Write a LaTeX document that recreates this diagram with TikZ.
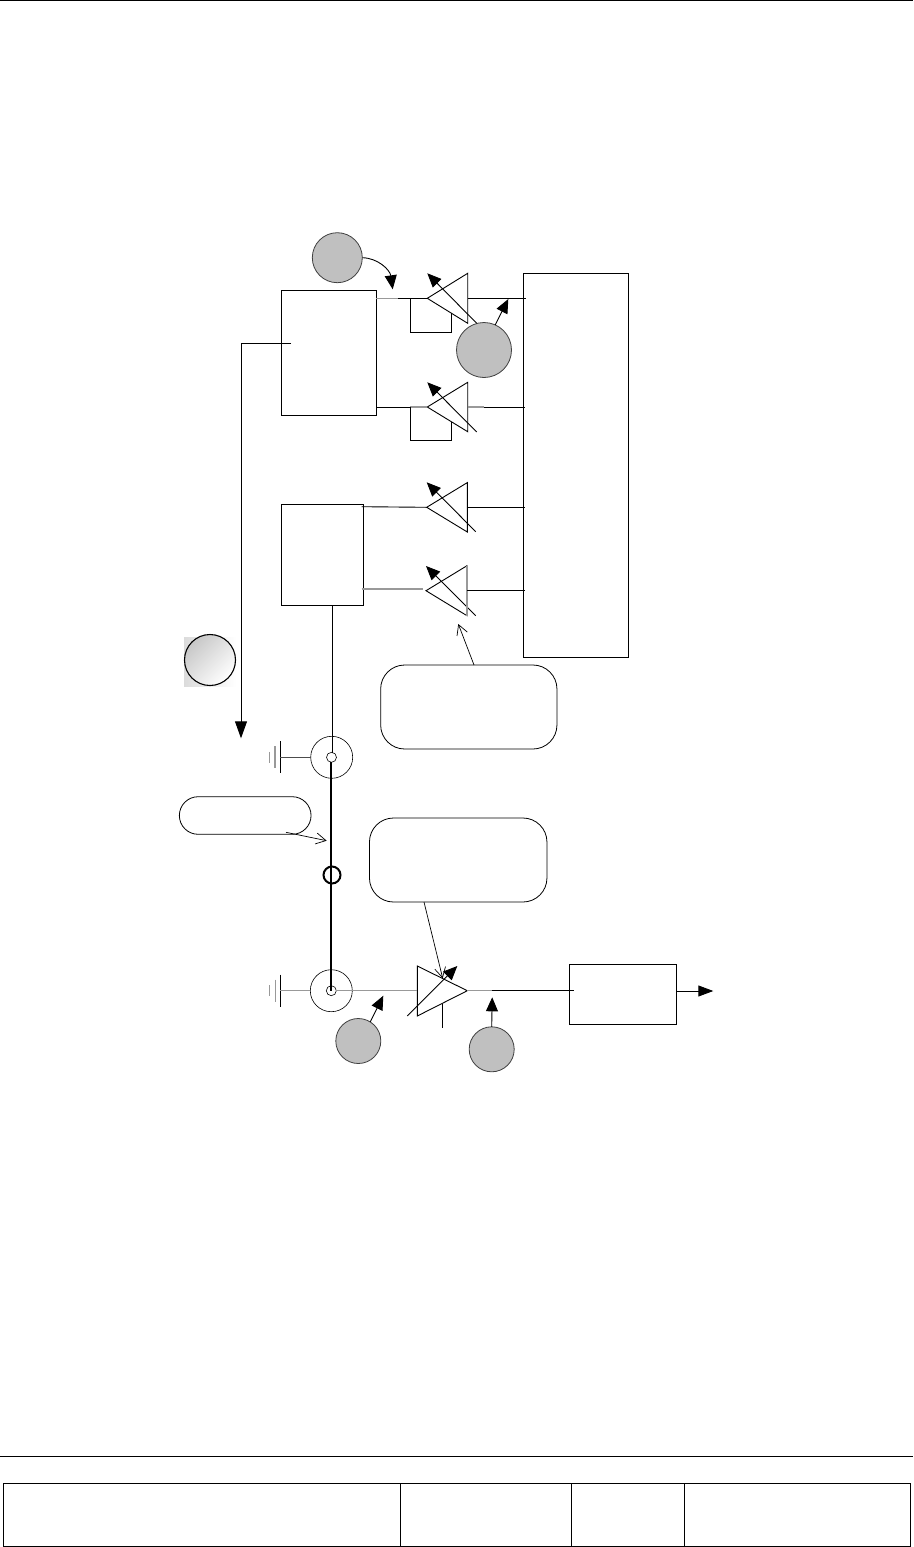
\documentclass[tikz,border=0pt]{standalone}
\usetikzlibrary{arrows.meta,calc}
\definecolor{bub}{HTML}{C0C0C0}
\definecolor{wgrey}{HTML}{999999}
\tikzset{
  wire/.style={draw=black,line width=0.9pt},
  gwire/.style={draw=wgrey,line width=1.1pt},
  blockbox/.style={draw=black,line width=1pt,inner sep=0pt,outer sep=0pt,fill=none},
  roundbox/.style={draw=black,line width=0.8pt,inner sep=0pt,outer sep=0pt,rounded corners=24pt},
  bubble/.style={circle,draw=black!75,line width=0.8pt,fill=bub,inner sep=0pt,outer sep=0pt},
  ring/.style={circle,draw=black,line width=0.6pt,inner sep=0pt,outer sep=0pt},
  solidarrow/.style={wire,-{Triangle[length=14pt,width=12pt]}},
  openarrow/.style={draw=black,line width=0.7pt,-{Straight Barb[length=10pt,width=11pt,line width=0.7pt]}},
  ampedge/.style={draw=black,line width=0.9pt,line join=miter},
  thick wire/.style={draw=black,line width=2.4pt},
  groundbar/.style={draw=wgrey,line width=1.1pt}
}
% name, apex x, y, base x, half height
\newcommand{\ampl}[5]{%
  \coordinate (#1-a) at (#2,#3);
  \coordinate (#1-m) at (#4,#3);
  \coordinate (#1-t) at (#4,#3-#5);
  \coordinate (#1-b) at (#4,#3+#5);
  \draw[ampedge] (#1-a) -- (#1-t) -- (#1-b) -- cycle;
}
% name, centre x, y : ground symbol attached to x position
\newcommand{\grnd}[3]{%
  \coordinate (#1) at (#2,#3);
  \draw[wire] (#2,#3-16) -- (#2,#3+16);
  \draw[groundbar] (#2-5,#3-11) -- (#2-5,#3+11);
  \draw[groundbar] (#2-10.5,#3-5.5) -- (#2-10.5,#3+5.5);
}
\begin{document}
\begin{tikzpicture}[x=1pt,y=-1pt]
\useasboundingbox (0,0) rectangle (913,1547);
\fill[white] (0,0) rectangle (913,1547);

% page furniture
\coordinate (tl) at (0,0.6); \coordinate (tr) at (913,0.6);
\draw[wire,line width=1pt] (tl) -- (tr);
\coordinate (fl) at (0,1456); \coordinate (fr) at (913,1456);
\draw[wire,line width=1pt] (fl) -- (fr);
\draw[wire,line width=0.9pt] (3,1483.5) rectangle (910.5,1546.5);
\draw[wire,line width=0.9pt] (400.7,1483.5) -- (400.7,1546.5);
\draw[wire,line width=0.9pt] (571,1483.5) -- (571,1546.5);
\draw[wire,line width=0.9pt] (684,1483.5) -- (684,1546.5);

% blocks
\node[blockbox,minimum width=95pt,minimum height=125pt] (mixa) at (328.8,352.8) {};
\node[blockbox,minimum width=105pt,minimum height=384pt] (dac) at (575.8,465.2) {};
\node[blockbox,minimum width=82pt,minimum height=101pt] (mixb) at (322.3,554.8) {};
\node[blockbox,minimum width=107.4pt,minimum height=60pt] (out) at (623,994.3) {};
\node[roundbox,minimum width=176.3pt,minimum height=84pt] (noteA) at (468.8,707) {};
\node[roundbox,rounded corners=18.8pt,minimum width=131.7pt,minimum height=37.6pt] (noteB) at (245.2,815.5) {};
\node[roundbox,minimum width=177.5pt,minimum height=84pt] (noteC) at (458.2,860) {};

% bubbles
\node[bubble,minimum size=50pt] (ba) at (337.3,257.7) {};
\node[bubble,minimum size=55pt] (bb) at (484,350) {};
\node[bubble,minimum size=45pt] (bc) at (358.3,1041) {};
\node[bubble,minimum size=45pt] (bd) at (491.7,1049.3) {};
\shade[left color=black!14,right color=white] (184,637) rectangle (236,686);
\node[circle,draw=black,line width=1.1pt,minimum size=51pt,inner sep=0pt,outer sep=0pt,left color=black!22,right color=white,shading angle=45] (be) at (210,660) {};

% amplifiers
\ampl{t1}{427.3}{298.3}{467.7}{25}
\ampl{t2}{427.3}{407}{467.7}{24.7}
\ampl{t3}{426.7}{507.3}{467.3}{24.7}
\ampl{t4}{426}{590.7}{467}{25}
\coordinate (t5-t) at (417.3,966);
\coordinate (t5-b) at (417.3,1016);
\coordinate (t5-m) at (417.3,990.7);
\coordinate (t5-a) at (467.3,990.7);
\draw[ampedge] (t5-a) -- (t5-t) -- (t5-b) -- cycle;

% variable-gain arrows through amplifiers
\coordinate (v1s) at (476.7,323.3); \coordinate (v1e) at (427.3,273.3);
\coordinate (v2s) at (476.7,432);   \coordinate (v2e) at (427.3,382.3);
\coordinate (v3s) at (475.7,531.7); \coordinate (v3e) at (426.7,482.3);
\coordinate (v4s) at (475.7,615.7); \coordinate (v4e) at (426,566);
\coordinate (v5s) at (407.3,1016);  \coordinate (v5e) at (457.3,966);
\foreach \k in {1,...,5}{\draw[solidarrow] (v\k s) -- (v\k e);}

% wires amplifier row 1
\coordinate (w1) at (398,298.3);
\draw[gwire] (mixa.east |- t1-a) -- (w1);
\draw[wire] (w1) -- (t1-a);
\draw[wire] (t1-m) -- ([xshift=3pt]dac.west |- t1-m);
\coordinate (f1a) at (410.3,298.3); \coordinate (f1b) at (451.7,313.3);
\draw[wire] (f1a) -- (410.3,332.3) -- (451.7,332.3) -- (f1b);
% row 2
\coordinate (w2) at (410.3,407);
\draw[wire] (mixa.east |- t2-a) -- (w2);
\draw[gwire] (w2) -- (t2-a);
\coordinate (w2b) at (484,407);
\draw[gwire] (t2-m) -- (w2b);
\draw[wire] (w2b) -- ([xshift=2pt]dac.west |- t2-m);
\coordinate (f2b) at (451.7,421.7);
\draw[wire] (w2) -- (410.3,440) -- (451.7,440) -- (f2b);
% row 3
\coordinate (m3) at (361.7,506.7);
\draw[wire] (m3) -- (t3-a);
\draw[wire] (t3-m) -- ([xshift=2pt]dac.west |- t3-m);
% row 4
\coordinate (m4) at (361.7,589); \coordinate (m4e) at (423,589);
\draw[gwire] (m4) -- (m4e);
\draw[gwire] (t4-t) -- (t4-b);
\draw[wire] (t4-m) -- ([xshift=2pt]dac.west |- t4-m);

% bubble pointers
\coordinate (pa) at (392.7,289.3);
\draw[solidarrow] (ba.east) .. controls (378,258) and (390,270) .. (pa);
\coordinate (pb) at (508.3,299);
\draw[solidarrow] (bb.66) -- (pb);
\coordinate (pc) at (383.3,995.7);
\draw[solidarrow] (bc.58) -- (pc);
\coordinate (pd) at (492.2,997.3);
\draw[solidarrow] (bd.90) -- (pd);

% local oscillator line
\coordinate (lo1) at (291,343.3); \coordinate (lo2) at (241,343.3); \coordinate (lo3) at (241,738.3);
\draw[wire] (lo1) -- (lo2);
\draw[wire,-{Triangle[length=17pt,width=12pt]}] (lo2) -- (lo3);

% couplers
\node[ring,minimum size=42pt] (ct) at (331.7,757.3) {};
\node[ring,minimum size=10pt] (cti) at (331.5,757.3) {};
\node[ring,minimum size=42pt] (cb) at (331.3,990.7) {};
\node[ring,minimum size=10pt] (cbi) at (331.3,990.7) {};
\node[circle,draw=black,line width=2pt,minimum size=17pt,inner sep=0pt] (ferr) at (332,875) {};
\coordinate (cs) at (332.3,752.5);
\draw[wire] (mixb.south -| cs) -- (cs);
\draw[thick wire] (331,762.3) -- (331,990.7);
\grnd{g1}{280}{757.3}
\grnd{g2}{280.3}{990.7}
\draw[wire,draw=black!70] (ct.west) -- (g1);
\draw[gwire] (cb.west) -- (g2);

% signal chain
\draw[gwire] (cbi.east) -- (t5-m);
\coordinate (o1) at (491.7,990.7);
\draw[gwire] (t5-a) -- (o1);
\draw[wire] (o1) -- ([xshift=4.5pt]out.west |- o1);
\coordinate (vg1) at (442.3,1004); \coordinate (vg2) at (442.3,1028.3);
\draw[wire] (vg1) -- (vg2);
\coordinate (oe) at (713.3,991);
\draw[wire,-{Triangle[length=15pt,width=11pt]}] (out.east |- oe) -- (oe);

% note pointers
\coordinate (na0) at (474,665);
\coordinate (na) at (458.3,624);
\draw[openarrow] (na0) -- (na);
\coordinate (nb1) at (286,832.3); \coordinate (nb) at (326.7,840.7);
\draw[openarrow] (nb1) -- (nb);
\coordinate (nc1) at (424,902); \coordinate (nc) at (442.7,978.3);
\draw[openarrow] (nc1) -- (nc);
\end{tikzpicture}
\end{document}
